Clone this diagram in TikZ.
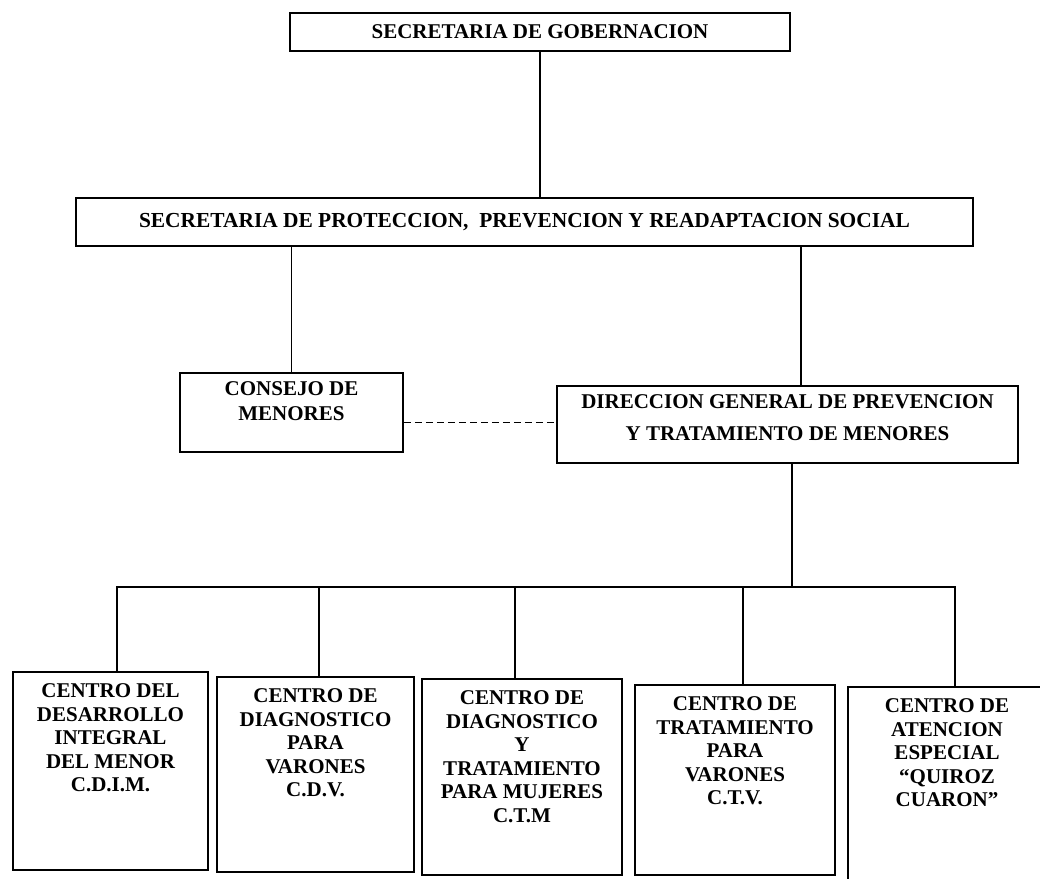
\documentclass[tikz,border=0pt]{standalone}
\usepackage{fontspec}
\setmainfont{Liberation Serif}
\usetikzlibrary{calc}

\newcommand{\topbox}[4][12pt]{\parbox[c][#3][t]{#2}{\centering\vspace*{#1}#4\par}}

\begin{document}
\begin{tikzpicture}[x=1pt, y=-1pt, line width=1.6pt,
    org/.style={draw, inner sep=0pt, font=\fontsize{21}{23.5}\selectfont\bfseries},
    link/.style={dash pattern=on 7pt off 4pt}]
  \useasboundingbox (0,0) rectangle (1040,878);

  \node[org, minimum width=500, minimum height=38] (gob) at (540,32) {SECRETARIA DE GOBERNACION};
  \node[org, minimum width=897, minimum height=48, font=\fontsize{21.4}{24}\selectfont\bfseries] (sppr) at (524.5,222)
    {SECRETARIA DE PROTECCION,\ \ PREVENCION Y READAPTACION SOCIAL};
  \node[org] (consejo) at (291.5,412.5) {\topbox[9pt]{223pt}{79pt}{CONSEJO DE\\[1.5pt]MENORES}};
  \node[org] (dgptm) at (787.5,424.5)
    {\topbox[9pt]{461pt}{77pt}{DIRECCION GENERAL DE PREVENCION\\[8pt]Y TRATAMIENTO DE MENORES}};
  \coordinate (fork) at (792,587);

  \node[org] (cdim) at (110.5,771) {\topbox{195pt}{198pt}{CENTRO DEL\\DESARROLLO\\INTEGRAL\\DEL MENOR\\C.D.I.M.}};
  \node[org] (cdv) at (315.5,774.5) {\topbox{197pt}{195pt}{CENTRO DE\\DIAGNOSTICO\\PARA\\VARONES\\C.D.V.}};
  \node[org] (ctm) at (522,777) {\topbox{200pt}{196pt}{CENTRO DE\\DIAGNOSTICO\\Y\\TRATAMIENTO\\PARA MUJERES\\C.T.M}};
  \node[org] (ctv) at (735,780) {\topbox{200pt}{190pt}{CENTRO DE\\TRATAMIENTO\\PARA\\VARONES\\C.T.V.}};
  \node[org] (quiroz) at (947,787) {\topbox{198pt}{200pt}{CENTRO DE\\ATENCION\\ESPECIAL\\“QUIROZ\\CUARON”}};

  \draw (gob) -- (gob |- sppr.north);
  \draw (consejo.north) -- (consejo.north |- sppr.south);
  \draw ([xshift=13.5pt]dgptm.north) -- ([xshift=13.5pt]dgptm.north |- sppr.south);
  \draw[link] ([yshift=-10pt]consejo.east) -- ([yshift=-10pt]consejo.east -| dgptm.west);
  \draw (fork |- dgptm.south) -- (fork);
  \draw ([xshift=6.5pt]cdim.north) |- (fork) -| ([xshift=8pt]quiroz.north);
  \foreach \ctr/\dx in {cdv/3.5pt, ctm/-7pt, ctv/8pt}
    \draw ([xshift=\dx]\ctr.north) -- ([xshift=\dx]\ctr.north |- fork);
\end{tikzpicture}
\end{document}
